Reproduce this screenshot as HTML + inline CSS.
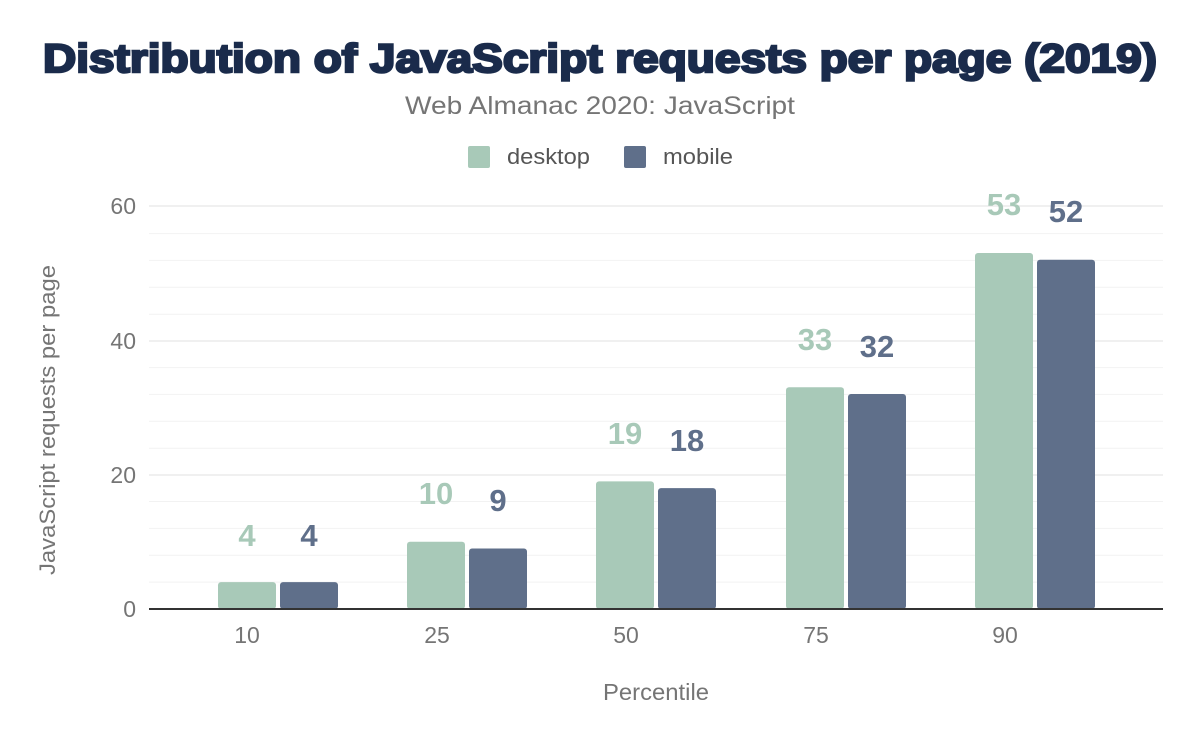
<!DOCTYPE html>
<html><head><meta charset="utf-8"><style>
body{margin:0;background:#fff;}
svg text{font-family:"Liberation Sans",sans-serif;}
</style></head><body>
<svg width="1200" height="742" viewBox="0 0 1200 742" xmlns="http://www.w3.org/2000/svg">
<rect width="1200" height="742" fill="#fff"/>
<text x="600" y="72" text-anchor="middle" font-size="40" font-weight="900" fill="#1a2b4b" stroke="#1a2b4b" stroke-width="2.4" textLength="1114" lengthAdjust="spacingAndGlyphs">Distribution of JavaScript requests per page (2019)</text>
<text x="600" y="114" text-anchor="middle" font-size="25" fill="#757575" textLength="390" lengthAdjust="spacingAndGlyphs">Web Almanac 2020: JavaScript</text>
<rect x="468" y="146" width="22" height="22" fill="#a8c9b8" rx="2"/>
<text x="507" y="164" font-size="22" fill="#555" textLength="83" lengthAdjust="spacingAndGlyphs">desktop</text>
<rect x="624" y="146" width="22" height="22" fill="#5f6f8a" rx="2"/>
<text x="663" y="164" font-size="22" fill="#555" textLength="70" lengthAdjust="spacingAndGlyphs">mobile</text>
<g stroke="#f2f2f2" stroke-width="1">
<line x1="149" x2="1163" y1="582.1" y2="582.1"/><line x1="149" x2="1163" y1="555.3" y2="555.3"/><line x1="149" x2="1163" y1="528.4" y2="528.4"/><line x1="149" x2="1163" y1="501.5" y2="501.5"/>
<line x1="149" x2="1163" y1="448.2" y2="448.2"/><line x1="149" x2="1163" y1="421.3" y2="421.3"/><line x1="149" x2="1163" y1="394.4" y2="394.4"/><line x1="149" x2="1163" y1="367.6" y2="367.6"/>
<line x1="149" x2="1163" y1="314.2" y2="314.2"/><line x1="149" x2="1163" y1="287.3" y2="287.3"/><line x1="149" x2="1163" y1="260.4" y2="260.4"/><line x1="149" x2="1163" y1="233.6" y2="233.6"/>
</g>
<g stroke="#ebebeb" stroke-width="1.5">
<line x1="149" x2="1163" y1="475" y2="475"/><line x1="149" x2="1163" y1="341" y2="341"/><line x1="149" x2="1163" y1="206" y2="206"/>
</g>
<g font-size="23" fill="#757575" text-anchor="end">
<text x="136" y="617">0</text><text x="136" y="483">20</text><text x="136" y="349">40</text><text x="136" y="214">60</text>
</g>
<text transform="translate(55,420) rotate(-90)" text-anchor="middle" font-size="22" fill="#757575" textLength="310" lengthAdjust="spacingAndGlyphs">JavaScript requests per page</text>
<g>
<rect x="218" y="582.1" width="58" height="26.9" rx="3" fill="#a8c9b8"/>
<rect x="280" y="582.1" width="58" height="26.9" rx="3" fill="#5f6f8a"/>
<rect x="407" y="541.8" width="58" height="67.2" rx="3" fill="#a8c9b8"/>
<rect x="469" y="548.5" width="58" height="60.5" rx="3" fill="#5f6f8a"/>
<rect x="596" y="481.4" width="58" height="127.6" rx="3" fill="#a8c9b8"/>
<rect x="658" y="488.1" width="58" height="120.9" rx="3" fill="#5f6f8a"/>
<rect x="786" y="387.3" width="58" height="221.7" rx="3" fill="#a8c9b8"/>
<rect x="848" y="394.0" width="58" height="215.0" rx="3" fill="#5f6f8a"/>
<rect x="975" y="253.0" width="58" height="356.0" rx="3" fill="#a8c9b8"/>
<rect x="1037" y="259.7" width="58" height="349.3" rx="3" fill="#5f6f8a"/>
</g>
<g font-size="31" font-weight="bold" text-anchor="middle">
<text x="247" y="546" fill="#a8c9b8">4</text><text x="309" y="546" fill="#5f6f8a">4</text>
<text x="436" y="504" fill="#a8c9b8">10</text><text x="498" y="511" fill="#5f6f8a">9</text>
<text x="625" y="444" fill="#a8c9b8">19</text><text x="687" y="451" fill="#5f6f8a">18</text>
<text x="815" y="350" fill="#a8c9b8">33</text><text x="877" y="357" fill="#5f6f8a">32</text>
<text x="1004" y="215" fill="#a8c9b8">53</text><text x="1066" y="222" fill="#5f6f8a">52</text>
</g>
<line x1="149" x2="1163" y1="609" y2="609" stroke="#333" stroke-width="2"/>
<g font-size="23" fill="#757575" text-anchor="middle">
<text x="247" y="643">10</text><text x="437" y="643">25</text><text x="626" y="643">50</text><text x="816" y="643">75</text><text x="1005" y="643">90</text>
</g>
<text x="656" y="700" text-anchor="middle" font-size="23" fill="#757575" textLength="106" lengthAdjust="spacingAndGlyphs">Percentile</text>
</svg>
</body></html>
